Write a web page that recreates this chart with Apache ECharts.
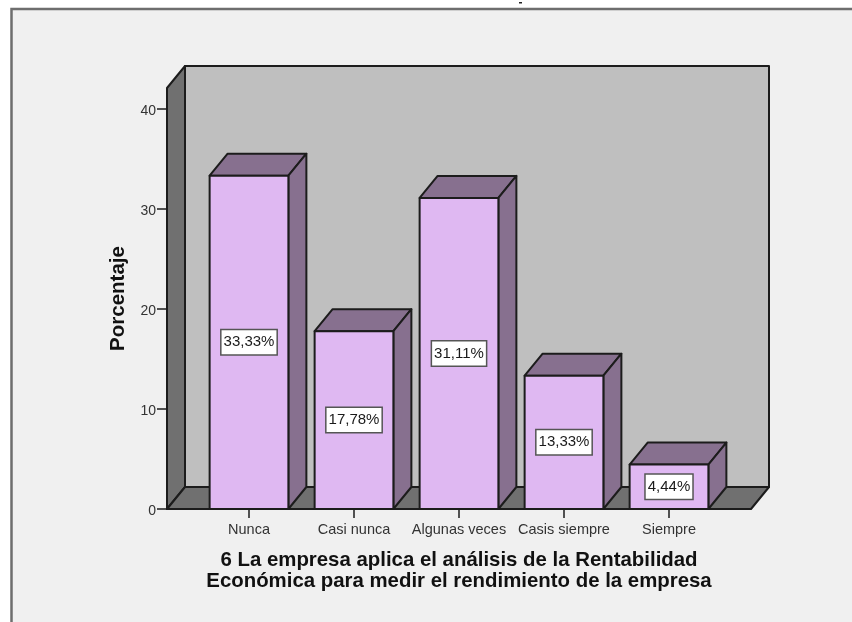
<!DOCTYPE html>
<html>
<head>
<meta charset="utf-8">
<style>
  html, body { margin: 0; padding: 0; background: #fff; }
  #chart { width: 852px; height: 622px; }
</style>
<script src="https://cdn.jsdelivr.net/npm/echarts@6/dist/echarts.min.js"></script>
</head>
<body>
<div id="chart"></div>
<script>
const categories = ["Nunca", "Casi nunca", "Algunas veces", "Casis siempre", "Siempre"];
const percentages = [33.33, 17.78, 31.11, 13.33, 4.44];
const yTicks = [0, 10, 20, 30, 40];
const wallTop = 42.1;

const font = '"Liberation Sans", Arial, sans-serif';
const lineColor = "#1c1c1c";
const depthX = 18;
const depthY = 22;
const wallPad = 29.5;

function poly(points, fill) {
    return {
        type: "polygon",
        shape: { points: points },
        style: { fill: fill, stroke: lineColor, lineWidth: 2, lineJoin: "round" }
    };
}

function renderWalls(params, api) {
    const rect = params.coordSys;
    const left = rect.x - wallPad;
    const right = rect.x + rect.width + wallPad;
    const bottom = api.coord([0, 0])[1];
    const top = api.coord([0, wallTop])[1];
    return {
        type: "group",
        children: [
            poly([[left + depthX, top - depthY], [right + depthX, top - depthY], [right + depthX, bottom - depthY], [left + depthX, bottom - depthY]], "#bfbfbf"),
            poly([[left, top], [left + depthX, top - depthY], [left + depthX, bottom - depthY], [left, bottom]], "#707070"),
            poly([[left, bottom], [left + depthX, bottom - depthY], [right + depthX, bottom - depthY], [right, bottom]], "#707070")
        ]
    };
}

function renderBar(params, api) {
    const top = api.coord([api.value(0), api.value(1)]);
    const base = api.coord([api.value(0), 0]);
    const w = api.size([1, 0])[0] * 0.75;
    const x0 = top[0] - w / 2;
    const x1 = top[0] + w / 2;
    return {
        type: "group",
        children: [
            poly([[x0, top[1]], [x0 + depthX, top[1] - depthY], [x1 + depthX, top[1] - depthY], [x1, top[1]]], "#87708f"),
            poly([[x1, top[1]], [x1 + depthX, top[1] - depthY], [x1 + depthX, base[1] - depthY], [x1, base[1]]], "#87708f"),
            poly([[x0, top[1]], [x1, top[1]], [x1, base[1]], [x0, base[1]]], "#dfb8f2"),
            {
                type: "text",
                style: {
                    text: api.value(1).toFixed(2).replace(".", ",") + "%",
                    x: top[0],
                    y: (top[1] + base[1]) / 2,
                    align: "center",
                    verticalAlign: "middle",
                    font: "15px " + font,
                    fill: "#1a1a1a",
                    backgroundColor: "#fff",
                    borderColor: "#555",
                    borderWidth: 1.5,
                    padding: [6, 2, 3, 2]
                }
            }
        ]
    };
}

const chart = echarts.init(document.getElementById("chart"), null, { renderer: "canvas" });
chart.setOption({
    animation: false,
    backgroundColor: "#fff",
    graphic: [
        {
            type: "rect",
            z: -10,
            shape: { x: 11.5, y: 9, width: 860, height: 640 },
            style: { fill: "#f0f0f0", stroke: "#6e6e6e", lineWidth: 2.5 }
        },
        {
            type: "rect",
            z: -10,
            shape: { x: 519, y: 2, width: 3, height: 1.5 },
            style: { fill: "#222" }
        }
    ],
    grid: { left: 196.5, right: 130.5, top: 88, bottom: 113 },
    xAxis: {
        type: "category",
        data: categories,
        name: "6 La empresa aplica el análisis de la Rentabilidad\nEconómica para medir el rendimiento de la empresa",
        nameLocation: "middle",
        nameGap: 41,
        nameTextStyle: { fontSize: 20.4, fontWeight: "bold", fontFamily: font, color: "#111", lineHeight: 21 },
        axisLine: { show: false },
        axisTick: { show: true, alignWithLabel: true, length: 9, lineStyle: { color: lineColor, width: 1.5 } },
        axisLabel: { interval: 0, margin: 13, fontSize: 14.5, fontFamily: font, color: "#333" }
    },
    yAxis: {
        type: "value",
        min: 0,
        max: wallTop,
        offset: wallPad,
        splitLine: { show: false },
        name: "Porcentaje",
        nameLocation: "middle",
        nameGap: 38,
        nameTextStyle: { fontSize: 20.5, fontWeight: "bold", fontFamily: font, color: "#111" },
        axisLine: { show: false },
        axisTick: { show: true, length: 10, customValues: yTicks, lineStyle: { color: lineColor, width: 1.5 } },
        axisLabel: {
            customValues: yTicks,
            margin: 11,
            formatter: "{t|{value}}",
            rich: { t: { fontSize: 14, fontFamily: font, color: "#333", padding: [4, 0, 0, 0] } }
        }
    },
    series: [
        { type: "custom", renderItem: renderWalls, data: [[0, wallTop]], silent: true, z: 1 },
        { type: "custom", renderItem: renderBar, data: percentages.map((v, i) => [i, v]), silent: true, z: 2 }
    ]
});
</script>
</body>
</html>
